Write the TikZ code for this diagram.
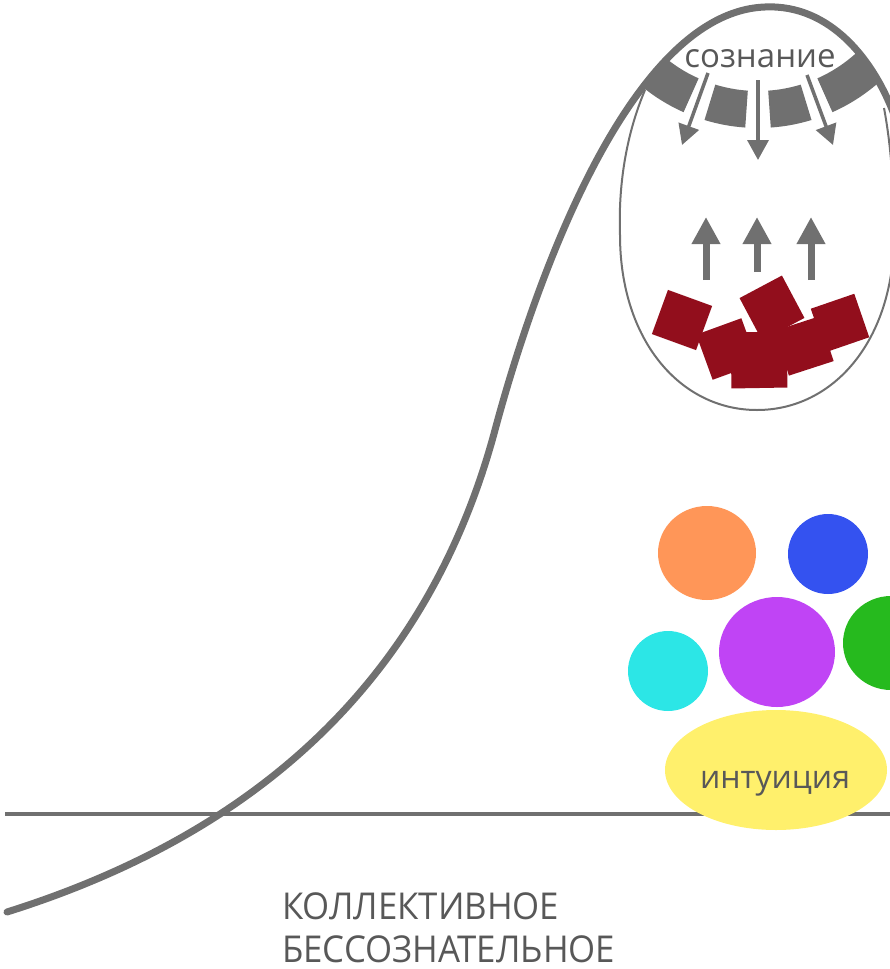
\documentclass[tikz,border=0pt]{standalone}
\usepackage{fontspec}
\newfontfamily\labelfont{Open Sans}
\usepackage{tikz}
\usetikzlibrary{arrows.meta, calc}

\definecolor{curvegray}{RGB}{112,112,112}
\definecolor{textgray}{RGB}{88,88,88}
\definecolor{brickred}{RGB}{146,14,28}
\definecolor{dotorange}{RGB}{255,150,88}
\definecolor{dotblue}{RGB}{52,82,240}
\definecolor{dotpurple}{RGB}{192,68,245}
\definecolor{dotcyan}{RGB}{44,230,230}
\definecolor{dotgreen}{RGB}{38,186,30}
\definecolor{dotyellow}{RGB}{255,240,108}

\tikzset{
  lifecurve/.style={draw=curvegray, line width=7pt, line cap=round},
  horizon/.style={draw=curvegray, line width=3.5pt},
  egg/.style={draw=curvegray, line width=2pt},
  downarrow/.style={draw=curvegray, line width=3.5pt, -{Triangle[width=21pt,length=20pt]}},
  uparrow/.style={draw=curvegray, line width=7pt, -{Triangle[width=27pt,length=27pt]}},
  label/.style={font=\labelfont, text=textgray, inner sep=0pt}
}

% lower part of the egg, the top is the big curve
\providecommand{\EggPath}{(645,90) .. controls (628,130) and (618,180) .. (620,235)
  .. controls (620,340) and (680,410) .. (757,410)
  .. controls (834,410) and (894,340) .. (894,235)
  .. controls (894,180) and (890,140) .. (884,108)}

% one piece of the band under the top: from angle, to angle
\providecommand{\BandPiece}[2]{%
  \fill[curvegray] ($ (band)+(#1:183) $) arc (#1:#2:183) -- ($ (band)+(#2:146) $) arc (#2:#1:146) -- cycle;
}

% x, y, angle, side
\providecommand{\Brick}[4]{%
  \fill[brickred, rotate around={#3:(#1,#2)}] (#1-#4/2,#2-#4/2) rectangle ++(#4,#4);
}

\begin{document}
\begin{tikzpicture}[x=1pt, y=-1pt]

	\useasboundingbox (0,0) rectangle (890,969);

	\coordinate (band) at (758,-55);
	\coordinate (hl) at (5,814);
	\coordinate (hr) at (890,814);

	\draw[horizon] (hl) -- (hr);

	\draw[egg] \EggPath;
	\begin{scope}
		\clip \EggPath .. controls (870,50) and (830,4) .. (765,7) .. controls (700,8) and (665,50) .. cycle;
		\BandPiece{150}{114}
		\BandPiece{107}{94}
		\BandPiece{86}{73}
		\BandPiece{66}{30}
	\end{scope}

	\node[label, font=\labelfont\fontsize{33}{33}\selectfont, anchor=base] (soznanie) at (760,67) {сознание};

	\coordinate (d1s) at (708,73);  \coordinate (d1e) at (682,145);
	\coordinate (d2s) at (758,80);  \coordinate (d2e) at (758,160);
	\coordinate (d3s) at (807,75);  \coordinate (d3e) at (833,145);
	\draw[downarrow] (d1s) -- (d1e);
	\draw[downarrow] (d2s) -- (d2e);
	\draw[downarrow] (d3s) -- (d3e);

	\coordinate (u1s) at (706,280); \coordinate (u1e) at (706,217);
	\coordinate (u2s) at (757,272); \coordinate (u2e) at (757,217);
	\coordinate (u3s) at (811,280); \coordinate (u3e) at (811,217);
	\draw[uparrow] (u1s) -- (u1e);
	\draw[uparrow] (u2s) -- (u2e);
	\draw[uparrow] (u3s) -- (u3e);

	\Brick{682}{320}{-20}{47}
	\Brick{727}{349}{20}{48}
	\Brick{772}{308}{28}{48}
	\Brick{804}{346}{18}{47}
	\Brick{840}{323}{19}{46}
	\Brick{759}{360}{1}{56}

	\fill[dotorange] (707,553) ellipse (49 and 47);
	\fill[dotblue] (828,554) ellipse (40 and 40);
	\fill[dotcyan] (668,671) ellipse (40 and 40);
	\fill[dotpurple] (777,652) ellipse (58 and 55);
	\fill[dotgreen] (891,643) ellipse (48 and 47);
	\fill[dotyellow] (776,770) ellipse (111 and 60);
	\node[label, font=\labelfont\fontsize{32}{32}\selectfont, anchor=base] (intuicija) at (775,788) {интуиция};

	\draw[lifecurve] (7,912) .. controls (220,845) and (420,710) .. (495,430)
		.. controls (535,281) and (630,12) .. (765,7)
		.. controls (830,4) and (875,60) .. (896,120);

	\node[label, font=\labelfont\fontsize{37}{37}\selectfont, anchor=base west] (kollekt) at (282,919) {\scalebox{0.94}[1]{КОЛЛЕКТИВНОЕ}};
	\node[label, font=\labelfont\fontsize{37}{37}\selectfont, anchor=base west] (bessozn) at (282,962) {\scalebox{0.94}[1]{БЕССОЗНАТЕЛЬНОЕ}};

\end{tikzpicture}
\end{document}
